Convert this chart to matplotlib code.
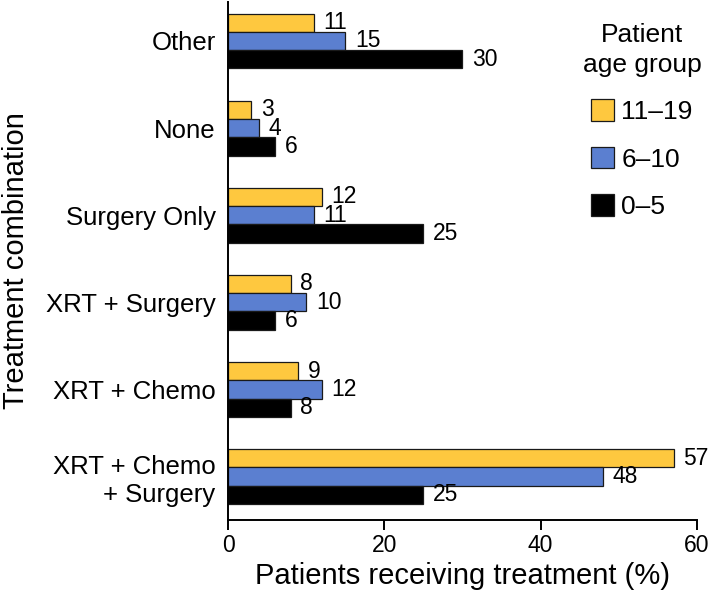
import numpy as np
import matplotlib
matplotlib.use('Agg')
import matplotlib.pyplot as plt

plt.rcParams['font.family'] = ['Liberation Sans', 'DejaVu Sans']

# categories listed bottom to top
categories = ['XRT + Chemo\n+ Surgery', 'XRT + Chemo', 'XRT + Surgery',
              'Surgery Only', 'None', 'Other']
age_11_19 = [57, 9, 8, 12, 3, 11]
age_6_10 = [48, 12, 10, 11, 4, 15]
age_0_5 = [25, 8, 6, 25, 6, 30]
series_labels = ['11\u201319', '6\u201310', '0\u20135']
colors = ['#FEC83F', '#5B7FD0', '#000000']

fig = plt.figure(figsize=(7.09, 6.0), dpi=100)
ax = fig.add_axes([0.3216, 0.1333, 0.6614, 0.8637])

y = np.arange(len(categories))
h = 0.21
offsets = [h, 0, -h]
bars = []
for vals, off, col, lab in zip([age_11_19, age_6_10, age_0_5], offsets, colors, series_labels):
    b = ax.barh(y + off, vals, height=h, color=col, edgecolor='#1a1a1a',
                linewidth=0.9, label=lab)
    bars.append(b)
    for rect, v in zip(b, vals):
        ax.annotate(str(v), (rect.get_width(), rect.get_y() + rect.get_height() / 2),
                    xytext=(7, 0), textcoords='offset points',
                    ha='left', va='center', fontsize=16.5)

ax.set_xlim(0, 60)
ax.set_ylim(-0.5, 5.45)
ax.set_xticks([0, 20, 40, 60])
ax.set_yticks(y)
ax.set_yticklabels(categories)
ax.tick_params(axis='y', length=0, pad=9, labelsize=18.5)
ax.tick_params(axis='x', length=7, width=1.4, labelsize=16.5, pad=3)
for s in ['top', 'right']:
    ax.spines[s].set_visible(False)
for s in ['left', 'bottom']:
    ax.spines[s].set_linewidth(1.4)

ax.set_xlabel('Patients receiving treatment (%)', fontsize=21, labelpad=4)
ax.set_ylabel('Treatment combination', fontsize=21, labelpad=11)

leg = ax.legend(handles=bars, title='Patient\nage group', loc='upper right',
                bbox_to_anchor=(1.06, 1.005), frameon=False, fontsize=19,
                title_fontsize=19, handlelength=0.85, handleheight=0.9,
                handletextpad=0.3, labelspacing=0.85, alignment='center')
leg.get_title().set_multialignment('center')
leg.get_title().set_linespacing(1.3)

fig.savefig('out.png', dpi=100)
